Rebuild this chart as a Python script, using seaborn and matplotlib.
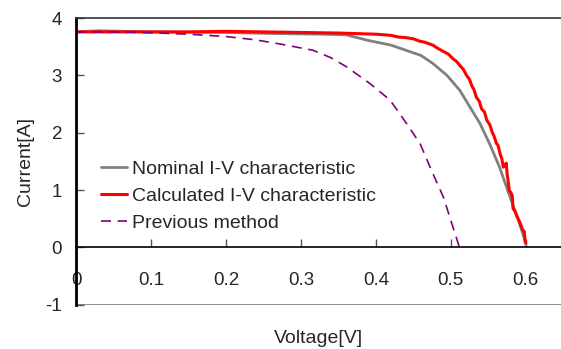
import matplotlib
matplotlib.use("Agg")
import matplotlib.pyplot as plt
import seaborn as sns

# Nominal I-V characteristic (gray)
nominal_v = [0, 0.03, 0.1, 0.2, 0.27, 0.33, 0.36, 0.375, 0.39, 0.42, 0.44, 0.46, 0.476,
             0.495, 0.512, 0.525, 0.539, 0.552, 0.565, 0.579, 0.59, 0.599, 0.600]
nominal_i = [3.76, 3.78, 3.76, 3.75, 3.73, 3.72, 3.71, 3.66, 3.61, 3.53, 3.44, 3.35, 3.21,
             3.00, 2.74, 2.46, 2.16, 1.80, 1.40, 0.88, 0.48, 0.12, 0.05]

# Calculated I-V characteristic (red)
calc_v = [0, 0.05, 0.1, 0.15, 0.2, 0.25, 0.3, 0.35, 0.4, 0.42, 0.43, 0.44, 0.45, 0.458,
          0.465, 0.476, 0.483, 0.49, 0.497, 0.503, 0.508, 0.513, 0.517, 0.521, 0.525,
          0.528, 0.531, 0.534, 0.538, 0.541, 0.545, 0.548, 0.552, 0.555, 0.558, 0.561,
          0.563, 0.566, 0.568, 0.570, 0.572, 0.574, 0.575, 0.576, 0.578, 0.580, 0.582,
          0.583, 0.586, 0.588, 0.592, 0.596, 0.598, 0.599, 0.600]
calc_i = [3.76, 3.76, 3.76, 3.76, 3.77, 3.76, 3.75, 3.74, 3.72, 3.70, 3.67, 3.66, 3.64, 3.60,
          3.58, 3.53, 3.47, 3.42, 3.37, 3.29, 3.24, 3.16, 3.10, 3.00, 2.93,
          2.82, 2.75, 2.62, 2.55, 2.42, 2.36, 2.22, 2.14, 2.02, 1.93, 1.81,
          1.78, 1.62, 1.55, 1.40, 1.42, 1.47, 1.30, 1.20, 0.99, 0.96, 0.90,
          0.68, 0.62, 0.55, 0.44, 0.30, 0.28, 0.12, 0.08]

# Previous method (purple dashed)
prev_v = [0, 0.05, 0.1, 0.15, 0.2, 0.24, 0.272, 0.316, 0.34, 0.361, 0.392, 0.419,
          0.441, 0.459, 0.476, 0.490, 0.503, 0.512]
prev_i = [3.76, 3.76, 3.745, 3.72, 3.68, 3.62, 3.55, 3.44, 3.31, 3.15, 2.86, 2.57,
          2.16, 1.81, 1.29, 0.88, 0.35, -0.02]

xticks = [0, 0.1, 0.2, 0.3, 0.4, 0.5, 0.6]
yticks = [-1, 0, 1, 2, 3, 4]

sns.set_style("white")
plt.rcParams["font.family"] = ["Liberation Sans", "DejaVu Sans"]
plt.rcParams["axes.unicode_minus"] = False

fig = plt.figure(figsize=(5.61, 3.49), dpi=100)
ax = fig.add_axes([0.1355, 0.127, 0.8645, 0.821])

sns.lineplot(x=nominal_v, y=nominal_i, ax=ax, color="#808080", lw=2,
             sort=False, label="Nominal I-V characteristic")
sns.lineplot(x=calc_v, y=calc_i, ax=ax, color="#ff0000", lw=2.2,
             sort=False, label="Calculated I-V characteristic")
sns.lineplot(x=prev_v, y=prev_i, ax=ax, color="#800080", lw=1.2,
             sort=False, label="Previous method", dashes=False)
ax.lines[-1].set_dashes([6, 4])

ax.set_xlim(0, 0.647)
ax.set_ylim(-1, 4)
ax.set_xticks(xticks)
ax.set_xticklabels([f"{t:g}" for t in xticks])
ax.set_yticks(yticks)

# axis frame: left spine black, bottom spine moved to y=0, gray line at y=-1
ax.spines["bottom"].set_position(("data", 0))
ax.spines["bottom"].set_color("black")
ax.spines["bottom"].set_linewidth(1.2)
ax.spines["left"].set_color("black")
ax.spines["left"].set_linewidth(2)
ax.spines["top"].set_color("#333333")
ax.spines["top"].set_linewidth(1.2)
ax.spines["right"].set_visible(False)
ax.axhline(-1, color="#808080", lw=2, zorder=0)

ax.tick_params(axis="x", direction="in", length=6, width=1, color="#555555",
               pad=18, labelsize=13.5, bottom=True)
ax.tick_params(axis="y", direction="in", length=6, width=1, color="#555555",
               pad=10, labelsize=13.5, left=True)

ax.set_xlabel("Voltage[V]", fontsize=14)
ax.set_ylabel("Current[A]", fontsize=14)
ax.xaxis.set_label_coords(0.5, -0.09)
ax.yaxis.set_label_coords(-0.087, 0.5)

ax.legend(loc="upper left", bbox_to_anchor=(0.052, 0.505), frameon=False,
          fontsize=14, handlelength=1.35, handletextpad=0.25, labelspacing=0.5,
          borderaxespad=0, borderpad=0)

fig.savefig("out.png", dpi=100)
